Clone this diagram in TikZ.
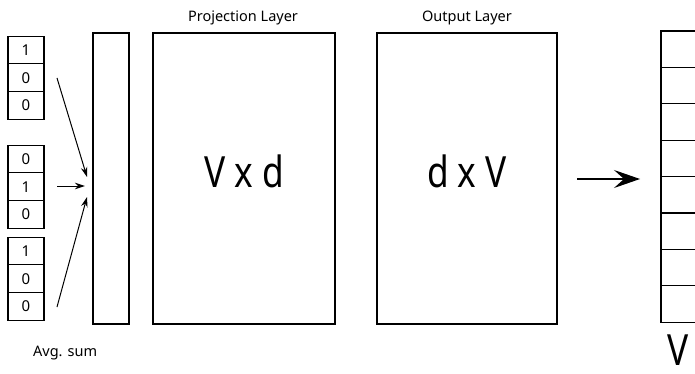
\documentclass[tikz,border=0pt]{standalone}
\usepackage{fontspec}
\setmainfont{Noto Sans}
\usetikzlibrary{arrows.meta}
\begin{document}
\begin{tikzpicture}[x=1pt,y=-1pt,
  box/.style={draw=black, line width=1.2pt, inner sep=0pt},
  cell/.style={box, minimum width=36pt, minimum height=27.7pt, font=\fontsize{15}{17}\selectfont},
  ocell/.style={box, minimum width=36pt, minimum height=36.4pt},
  big/.style={font=\fontsize{43}{48}\selectfont, xscale=0.82, inner sep=0pt},
  lbl/.style={font=\fontsize{14.5}{17}\selectfont, inner sep=0pt},
  arr/.style={line width=1pt, -{Stealth[length=10pt,width=6.5pt]}}]
\useasboundingbox (0,0) rectangle (695,374);
% input vectors
\node[cell] (a1) at (26,50) {1};
\node[cell] (a2) at (26,77.7) {0};
\node[cell] (a3) at (26,105.4) {0};
\node[cell] (b1) at (26,159) {0};
\node[cell] (b2) at (26,186.7) {1};
\node[cell] (b3) at (26,214.4) {0};
\node[cell] (c1) at (26,251) {1};
\node[cell] (c2) at (26,278.7) {0};
\node[cell] (c3) at (26,306.4) {0};
% avg sum box
\node[box, minimum width=36pt, minimum height=291pt] (avg) at (111,178.5) {};
\node[lbl, anchor=west] (avglbl) at (33,353) {Avg. sum};
% projection and output layers
\node[box, minimum width=182pt, minimum height=291pt] (proj) at (244,178.5) {};
\node[big] (vxd) at (244,171.5) {V x d};
\node[lbl] (projlbl) at (243,18) {Projection Layer};
\node[box, minimum width=180pt, minimum height=291pt] (out) at (467,178.5) {};
\node[big] (dxv) at (467,171.5) {d x V};
\node[lbl] (outlbl) at (467,18) {Output Layer};
% output vector
\foreach \i in {0,...,7} {
  \node[ocell] (o\i) at (679,{49.2+36.4*\i}) {};
}
\node[big, anchor=north west] (vlbl) at (667,335) {V};
% arrows
\coordinate (s1) at (57,78);
\coordinate (e1) at (87,177);
\coordinate (s2) at (57,186);
\coordinate (e2) at (85,186);
\coordinate (s3) at (57,307);
\coordinate (e3) at (87,197);
\draw[arr] (s1) -- (e1);
\draw[arr] (s2) -- (e2);
\draw[arr] (s3) -- (e3);
\coordinate (s4) at (577,179);
\coordinate (e4) at (640,179);
\draw[line width=1.2pt, -{Stealth[length=26pt,width=18pt,inset=10pt]}] (s4) -- (e4);
\end{tikzpicture}
\end{document}
